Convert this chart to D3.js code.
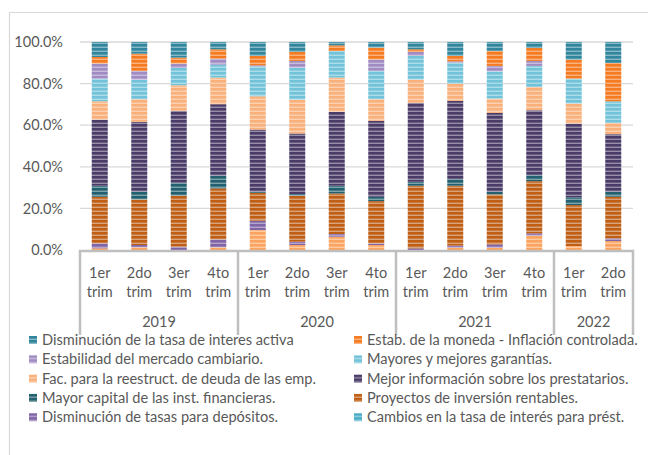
<!DOCTYPE html>
<html>
<head>
<meta charset="utf-8">
<script src="https://cdn.jsdelivr.net/npm/d3@7"></script>
<style>
  body { margin: 0; background: #fff; }
  svg text { font-family: Lato, "Open Sans", sans-serif; fill: #595959; }
</style>
</head>
<body>
<div id="chart"></div>
<script>
// Categories
const quarters = ["1er trim", "2do trim", "3er trim", "4to trim",
                  "1er trim", "2do trim", "3er trim", "4to trim",
                  "1er trim", "2do trim", "3er trim", "4to trim",
                  "1er trim", "2do trim"];
const years = ["2019", "2019", "2019", "2019", "2020", "2020", "2020", "2020",
               "2021", "2021", "2021", "2021", "2022", "2022"];
const yTicks = [0, 0.2, 0.4, 0.6, 0.8, 1];

// Series values (%), listed top of stack first
const tasaActiva   = [7.2, 5.6, 7.5, 3.5, 6.7, 4.8, 1.6, 2.7, 3.5, 6.7, 4.3, 2.9, 8.5, 10.1];
const estabMoneda  = [3.2, 8.3, 2.9, 4.5, 4.5, 4.3, 2.7, 5.8, 1.3, 2.6, 7.2, 6.2, 9.1, 18.4];
const mercCambiario= [7.2, 4.2, 2.1, 2.9, 0.5, 3.2, 0, 5.4, 1.9, 0.6, 2.6, 2.4, 0, 0];
const garantias    = [10.9, 9.4, 8.3, 6.2, 14.4, 15.4, 12.8, 13.6, 11.4, 10.1, 13.1, 10.1, 12, 10.4];
const reestruct    = [8.8, 10.9, 12.3, 12.8, 16, 16.3, 16.5, 10.4, 11.2, 8.3, 6.9, 11.2, 9.6, 5.4];
const mejorInfo    = [31.8, 33.6, 34.6, 34.4, 29.9, 29.1, 35.5, 36.5, 37.9, 37.6, 37.9, 31.2, 35.5, 27.7];
const mayorCapital = [5.3, 3.7, 6.2, 6.1, 0.5, 0.8, 3.7, 2.1, 1.9, 3.2, 1.3, 2.9, 3.7, 2.4];
const proyectos    = [22.4, 21.9, 24.5, 24.5, 13.4, 22.1, 19.5, 20.3, 30.1, 28.8, 24, 25.1, 19.7, 20];
const tasasDepos   = [2.4, 1.1, 1.6, 3.8, 4.5, 1.6, 1.3, 0.8, 0.8, 1, 1.6, 1.1, 0, 1.3];
const cambiosTasa  = [0, 0, 0, 0, 0, 0, 0, 0, 0, 0, 0, 0, 0, 0];
const otros        = [0.8, 1.3, 0, 1.3, 9.6, 2.4, 6.4, 2.4, 0, 1.1, 1.1, 6.9, 1.9, 4.3];

const seriesNames = [
  "Disminución de la tasa de interes activa",
  "Estab. de la moneda - Inflación controlada.",
  "Estabilidad del mercado cambiario.",
  "Mayores y mejores garantías.",
  "Fac. para la reestruct. de deuda de las emp.",
  "Mejor información sobre los prestatarios.",
  "Mayor capital de las inst. financieras.",
  "Proyectos de inversión rentables.",
  "Disminución de tasas para depósitos.",
  "Cambios en la tasa de interés para prést.",
  "Otros"
];
const seriesValues = [tasaActiva, estabMoneda, mercCambiario, garantias, reestruct,
  mejorInfo, mayorCapital, proyectos, tasasDepos, cambiosTasa, otros];
const colors = ["#31859c", "#f47b20", "#a08bc2", "#72c3d9", "#f9b07a",
  "#4a3b68", "#22606f", "#bf5f16", "#7f64a6", "#4bacc6", "#fba35f"];
const legendCount = 10;

// Base variables
const w = 648;
const h = 455;
const plot = { left: 80, right: 633, top: 42, bottom: 250 };

// rows for d3.stack, keys = series index
const keys = d3.range(seriesNames.length);
const rows = quarters.map((q, i) => {
  const r = { i };
  keys.forEach(k => { r[k] = seriesValues[k][i]; });
  return r;
});
// stack bottom first: reverse the key order
const stacked = d3.stack()
  .keys(keys.slice().reverse())
  .offset(d3.stackOffsetExpand)(rows);

const xScale = d3.scaleBand()
  .domain(d3.range(quarters.length))
  .range([plot.left, plot.right])
  .paddingInner(0.595)
  .paddingOuter(0.2975);

const yScale = d3.scaleLinear()
  .domain([0, 1])
  .range([plot.bottom, plot.top]);

const svg = d3.select("#chart")
  .append("svg")
  .attr("width", w)
  .attr("height", h);

// striped patterns
const defs = svg.append("defs");
colors.forEach((c, k) => {
  const p = defs.append("pattern")
    .attr("id", "pat" + k)
    .attr("patternUnits", "userSpaceOnUse")
    .attr("width", 8)
    .attr("height", 4);
  p.append("rect").attr("width", 8).attr("height", 4).attr("fill", c);
  p.append("rect").attr("y", 2.6).attr("width", 8).attr("height", 1.4)
    .attr("fill", "#fff").attr("opacity", 0.42);
});

// chart border
svg.append("path")
  .attr("d", `M9.5,${h}V12.5H${w}`)
  .attr("fill", "none")
  .attr("stroke", "#d9d9d9")
  .attr("stroke-width", 1.2);

// gridlines
svg.append("g")
  .selectAll("line")
  .data(yTicks.slice(1))
  .join("line")
  .attr("x1", plot.left)
  .attr("x2", plot.right)
  .attr("y1", d => yScale(d))
  .attr("y2", d => yScale(d))
  .attr("stroke", "#d9d9d9")
  .attr("stroke-width", 1.3);

// y-axis labels
const yAxis = d3.axisLeft(yScale)
  .tickValues(yTicks)
  .tickFormat(d3.format(".1%"))
  .tickSize(0)
  .tickPadding(0);
const yG = svg.append("g")
  .attr("transform", `translate(63,0)`)
  .call(yAxis);
yG.select(".domain").remove();
yG.selectAll("text")
  .attr("font-size", 14.5)
  .attr("font-family", null)
  .attr("fill", null);

// bars
svg.append("g")
  .selectAll("g")
  .data(stacked)
  .join("g")
  .attr("fill", d => `url(#pat${d.key})`)
  .selectAll("rect")
  .data(d => d)
  .join("rect")
  .attr("x", d => xScale(d.data.i))
  .attr("y", d => yScale(d[1]))
  .attr("width", xScale.bandwidth())
  .attr("height", d => yScale(d[0]) - yScale(d[1]));

// category axis (two levels)
const step = xScale.step();
const yearGroups = d3.groups(d3.range(years.length), i => years[i]);
const bounds = [plot.left];
yearGroups.forEach(([, idx]) => bounds.push(plot.left + (d3.max(idx) + 1) * step));

const axisG = svg.append("g");
axisG.append("line")
  .attr("x1", plot.left - 1)
  .attr("x2", plot.right + 1)
  .attr("y1", plot.bottom + 1)
  .attr("y2", plot.bottom + 1)
  .attr("stroke", "#bfbfbf")
  .attr("stroke-width", 2.5);
axisG.selectAll("line.sep")
  .data(bounds)
  .join("line")
  .attr("class", "sep")
  .attr("x1", d => d)
  .attr("x2", d => d)
  .attr("y1", plot.bottom)
  .attr("y2", 335)
  .attr("stroke", "#bfbfbf")
  .attr("stroke-width", 2.5);

const qText = axisG.selectAll("text.q")
  .data(quarters)
  .join("text")
  .attr("class", "q")
  .attr("text-anchor", "middle")
  .attr("font-size", 14.5);
qText.append("tspan")
  .attr("x", (d, i) => xScale(i) + xScale.bandwidth() / 2)
  .attr("y", 278)
  .text(d => d.split(" ")[0]);
qText.append("tspan")
  .attr("x", (d, i) => xScale(i) + xScale.bandwidth() / 2)
  .attr("y", 297)
  .text(d => d.split(" ")[1]);

axisG.selectAll("text.yr")
  .data(yearGroups)
  .join("text")
  .attr("class", "yr")
  .attr("text-anchor", "middle")
  .attr("font-size", 14.5)
  .attr("x", (d, j) => (bounds[j] + bounds[j + 1]) / 2)
  .attr("y", 327)
  .text(d => d[0]);

// legend, two columns
const legend = svg.append("g")
  .selectAll("g")
  .data(seriesNames.slice(0, legendCount))
  .join("g")
  .attr("transform", (d, k) =>
    `translate(${k % 2 === 0 ? 29 : 354}, ${340 + Math.floor(k / 2) * 19.3})`);
legend.append("rect")
  .attr("y", -4)
  .attr("width", 8)
  .attr("height", 8)
  .attr("fill", (d, k) => `url(#pat${k})`);
legend.append("text")
  .attr("x", 13)
  .attr("y", 5)
  .attr("font-size", 14.6)
  .text(d => d);
</script>
</body>
</html>
